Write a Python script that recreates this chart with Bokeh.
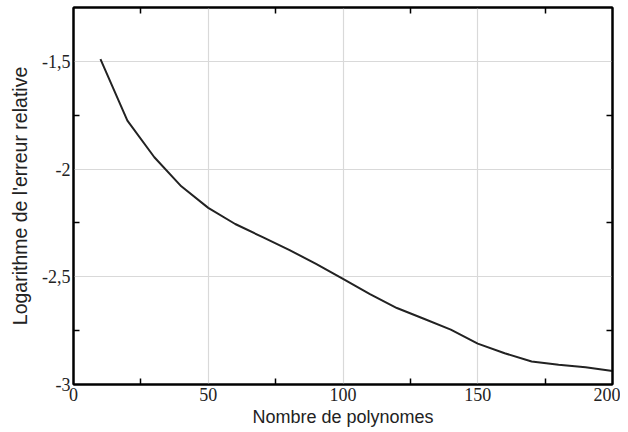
from bokeh.plotting import figure
from bokeh.models import FixedTicker, LinearAxis, CustomJSTickFormatter, Range1d
from bokeh.embed import file_html
from bokeh.resources import INLINE

# Data
n_polynomes = [10, 20, 30, 40, 50, 60, 70, 80, 90, 100,
               110, 120, 130, 140, 150, 160, 170, 180, 190, 200]
log_erreur = [-1.49, -1.775, -1.945, -2.08, -2.18, -2.255, -2.315, -2.375, -2.44, -2.51,
              -2.58, -2.645, -2.695, -2.745, -2.81, -2.855, -2.893, -2.908, -2.92, -2.937]

x_major = [0, 50, 100, 150, 200]
x_minor = [25, 75, 125, 175]
y_major = [-3, -2.5, -2, -1.5]
y_minor = [-2.75, -2.25, -1.75]

p = figure(frame_width=539, frame_height=377, output_backend="svg", toolbar_location=None,
           x_range=Range1d(0, 200), y_range=Range1d(-3, -1.25),
           min_border_left=73, min_border_right=8, min_border_top=7, min_border_bottom=40,
           x_axis_label="Nombre de polynomes",
           y_axis_label="Logarithme de l'erreur relative")

p.outline_line_color = "black"
p.outline_line_width = 2
p.outline_line_alpha = 1.0

xt = FixedTicker(ticks=x_major, minor_ticks=x_minor)
yt = FixedTicker(ticks=y_major, minor_ticks=y_minor)

fmt = CustomJSTickFormatter(code="return tick.toString().replace('.', ',');")
blank = CustomJSTickFormatter(code="return '';")

for ax in p.xaxis:
    ax.ticker = xt
for ax in p.yaxis:
    ax.ticker = yt
    ax.formatter = fmt

SERIF = "'Liberation Serif', 'Times New Roman', serif"
SANS = "'Liberation Sans', Arial, sans-serif"

def style_axis(ax):
    ax.axis_line_color = "black"
    ax.axis_line_width = 2
    ax.major_tick_line_color = None
    ax.major_tick_out = 0
    ax.major_tick_in = 0
    ax.minor_tick_line_color = "black"
    ax.minor_tick_line_width = 1.5
    ax.minor_tick_in = 6
    ax.minor_tick_out = 0
    ax.major_label_text_font = SERIF
    ax.major_label_text_font_size = "18px"
    ax.major_label_text_color = "#222222"
    ax.major_label_standoff = 3
    ax.axis_label_text_font = SANS
    ax.axis_label_text_font_size = "18px"
    ax.axis_label_text_font_style = "normal"
    ax.axis_label_text_color = "#222222"
    ax.axis_label_standoff = 3

for ax in p.xaxis + p.yaxis:
    style_axis(ax)
for ax in p.yaxis:
    ax.axis_label_text_font_size = "19.5px"
    ax.axis_label_standoff = 8

top = LinearAxis(ticker=xt, formatter=blank)
right = LinearAxis(ticker=yt, formatter=blank)
for ax in (top, right):
    style_axis(ax)
    ax.major_label_standoff = 0
p.add_layout(top, "above")
p.add_layout(right, "right")

p.xgrid.ticker = xt
p.ygrid.ticker = yt
p.grid.grid_line_color = "#d9d9d9"
p.grid.grid_line_width = 1.2

p.line(n_polynomes, log_erreur, line_color="#222222", line_width=2)

open("out.html", "w").write(file_html(p, INLINE))
